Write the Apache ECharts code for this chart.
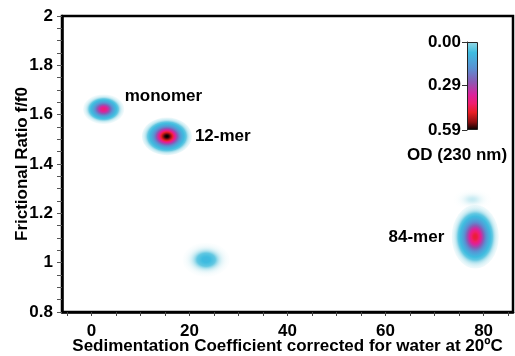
<!DOCTYPE html>
<html>
<head>
<meta charset="utf-8">
<script src="https://cdn.jsdelivr.net/npm/echarts@6/dist/echarts.min.js"></script>
<style>
html,body{margin:0;padding:0;background:#fff;}
#chart{width:515px;height:356px;}
</style>
</head>
<body>
<div id="chart"></div>
<script>
// ---- data ----
const blobNames = ['monomer', '12-mer', '', '84-mer', ''];
const sedCoef   = [2.5, 15.4, 23.4, 78.3, 77.7];      // S (x)
const fRatio    = [1.622, 1.512, 1.012, 1.105, 1.256]; // f/f0 (y)
const sigmaS    = [1.4, 1.7, 1.6, 1.6, 1.3];           // peak spread in S
const sigmaF    = [0.02, 0.0255, 0.023, 0.043, 0.014]; // peak spread in f/f0
const peakOD    = [0.40, 0.59, 0.08, 0.46, 0.018];     // OD (230 nm)

const xTickLabels = [0, 20, 40, 60, 80];
const xTicks = [-5, 0, 5, 10, 15, 20, 25, 30, 35, 40, 45, 50, 55, 60, 65, 70, 75, 80, 85];
const yTickLabels = [0.8, 1, 1.2, 1.4, 1.6, 1.8, 2];
const yTicks = [0.8, 0.85, 0.9, 0.95, 1, 1.05, 1.1, 1.15, 1.2, 1.25, 1.3, 1.35, 1.4, 1.45, 1.5, 1.55, 1.6, 1.65, 1.7, 1.75, 1.8, 1.85, 1.9, 1.95, 2];
const odTickLabels = [0, 0.29, 0.59];
const odMax = 0.59;

// ---- styles ----
const FONT = '"Liberation Sans", Arial, sans-serif';
const cmap = [
  [0.00, [150, 216, 228]],
  [0.12, [ 62, 188, 224]],
  [0.30, [ 90, 144, 210]],
  [0.45, [138,  90, 180]],
  [0.60, [220,  34, 156]],
  [0.70, [240,  30, 110]],
  [0.80, [232,  30,  36]],
  [0.91, [140,  14,  16]],
  [1.00, [  0,   0,   0]]
];
function cmapColor(t, a) {
  t = Math.max(0, Math.min(1, t));
  for (let i = 1; i < cmap.length; i++) {
    if (t <= cmap[i][0]) {
      const p = cmap[i - 1], q = cmap[i];
      const u = (t - p[0]) / (q[0] - p[0]);
      const c = p[1].map((v, k) => Math.round(v + (q[1][k] - v) * u));
      return 'rgba(' + c[0] + ',' + c[1] + ',' + c[2] + ',' + (a == null ? 1 : a) + ')';
    }
  }
  return 'rgba(0,0,0,' + (a == null ? 1 : a) + ')';
}
const RADIUS_SIGMAS = 3.0;
const labelOffset = {
  'monomer': { dx: 21, dy: -13, align: 'left' },
  '12-mer':  { dx: 28, dy: 0,   align: 'left' },
  '84-mer':  { dx: -31, dy: 1,  align: 'right' }
};

const blobData = sedCoef.map((s, i) => [s, fRatio[i], sigmaS[i], sigmaF[i], peakOD[i], i]);

const chart = echarts.init(document.getElementById('chart'));
chart.setOption({
  animation: false,
  backgroundColor: '#fff',
  grid: [
    { left: 62, right: 2, top: 16, bottom: 44, outerBoundsMode: 'none', containLabel: false,
      show: true, borderColor: '#000', borderWidth: 2.5, backgroundColor: 'transparent' },
    { left: 467, top: 42, width: 11, height: 88, outerBoundsMode: 'none', containLabel: false }
  ],
  xAxis: [
    {
      type: 'value', gridIndex: 0, min: -6, max: 86,
      name: 'Sedimentation Coefficient corrected for water at 20ºC',
      nameLocation: 'middle', nameGap: 26, nameMoveOverlap: false,
      nameTextStyle: { color: '#000', fontFamily: FONT, fontWeight: 'bold', fontSize: 17 },
      axisLine: { show: true, onZero: false, lineStyle: { color: '#000', width: 2.5 } },
      axisTick: { show: true, customValues: xTicks, length: 4, lineStyle: { color: '#444', width: 1 } },
      axisLabel: { customValues: xTickLabels, margin: 11, color: '#000', fontFamily: FONT, fontWeight: 'bold', fontSize: 17 },
      splitLine: { show: false }
    },
    {
      type: 'category', gridIndex: 1, data: [''], show: false
    }
  ],
  yAxis: [
    {
      type: 'value', gridIndex: 0, min: 0.8, max: 2,
      name: 'Frictional Ratio f/f0',
      nameLocation: 'middle', nameGap: 31, nameMoveOverlap: false,
      nameTextStyle: { color: '#000', fontFamily: FONT, fontWeight: 'bold', fontSize: 17 },
      axisLine: { show: true, onZero: false, lineStyle: { color: '#000', width: 2.5 } },
      axisTick: { show: true, customValues: yTicks, length: 5, lineStyle: { color: '#555', width: 1 } },
      axisLabel: { customValues: yTickLabels, margin: 9, color: '#000', fontFamily: FONT, fontWeight: 'bold', fontSize: 17 },
      splitLine: { show: false }
    },
    {
      type: 'value', gridIndex: 1, min: 0, max: odMax, inverse: true,
      axisLine: { show: true, lineStyle: { color: '#222', width: 1 } },
      axisTick: { show: true, customValues: odTickLabels, length: 5, lineStyle: { color: '#333', width: 1 } },
      axisLabel: { customValues: odTickLabels, margin: 6, color: '#000', fontFamily: FONT, fontWeight: 'bold', fontSize: 17,
        formatter: v => v.toFixed(2) },
      splitLine: { show: false }
    }
  ],
  graphic: [{
    type: 'text', left: 407, top: 147,
    style: { text: 'OD (230 nm)', fill: '#000', font: 'bold 17px ' + FONT }
  }],
  series: [
    {
      type: 'custom',
      xAxisIndex: 0, yAxisIndex: 0,
      data: blobData,
      clip: true,
      renderItem: function (params, api) {
        const c = api.coord([api.value(0), api.value(1)]);
        const sz = api.size([api.value(2), api.value(3)]);
        const rx = sz[0] * RADIUS_SIGMAS, ry = sz[1] * RADIUS_SIGMAS;
        const peak = api.value(4);
        const name = blobNames[api.value(5)];
        const stops = [];
        for (let k = 0; k <= 40; k++) {
          const r = k / 40;
          const z = r * RADIUS_SIGMAS;
          const v = peak * Math.exp(-z * z / 2);
          const a = Math.min(1, v / 0.04);
          stops.push({ offset: r, color: cmapColor(v / odMax, a.toFixed(3)) });
        }
        const children = [{
          type: 'circle',
          x: c[0], y: c[1],
          scaleX: rx / ry, scaleY: 1,
          shape: { cx: 0, cy: 0, r: ry },
          style: { fill: new echarts.graphic.RadialGradient(0.5, 0.5, 0.5, stops) }
        }];
        if (name) {
          const o = labelOffset[name];
          children.push({
            type: 'text',
            x: c[0] + o.dx, y: c[1] + o.dy,
            style: { text: name, fill: '#000', font: 'bold 17px ' + FONT, align: o.align, verticalAlign: 'middle' }
          });
        }
        return { type: 'group', children: children };
      }
    },
    {
      type: 'bar',
      xAxisIndex: 1, yAxisIndex: 1,
      data: [odMax],
      barWidth: '100%',
      itemStyle: {
        color: new echarts.graphic.LinearGradient(0, 0, 0, 1,
          cmap.map(s => ({ offset: s[0], color: cmapColor(s[0]) }))),
        borderColor: '#222', borderWidth: 1
      }
    }
  ]
});
</script>
</body>
</html>
